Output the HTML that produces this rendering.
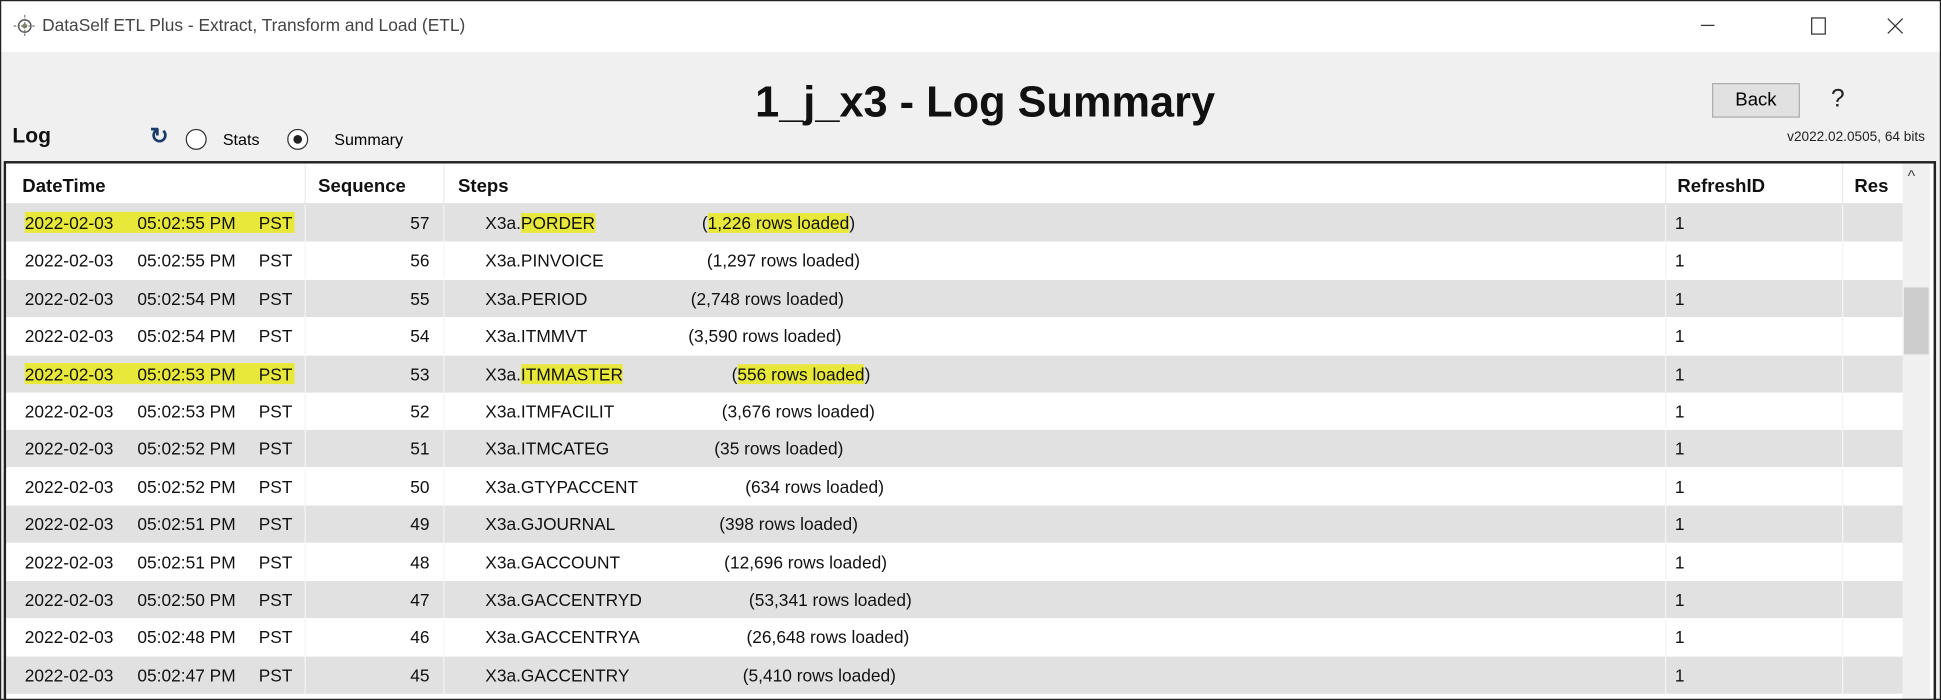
<!DOCTYPE html>
<html><head><meta charset="utf-8"><style>
html,body{margin:0;padding:0;width:1941px;height:700px;overflow:hidden;background:#fff}
#s{position:absolute;left:0;top:0;width:1568px;height:565px;transform-origin:0 0;transform:scale(1.2379,1.2389);background:#f0f0f0;font-family:"Liberation Sans",sans-serif;overflow:hidden}
.a{position:absolute;white-space:pre}
#frame{position:absolute;left:0;top:0;width:1566px;height:563px;border:1px solid #222;z-index:10;pointer-events:none}
.row{position:absolute;left:5px;width:1532px;height:30px;font-size:14px;color:#111}
.row span{position:absolute;top:7px;white-space:pre}
.g{background:#e1e1e1}.w{background:#fff}
.hl{background:#e8e83a}
.vl{position:absolute;top:0;width:1px;height:30px;background:#f4f4f4}
</style></head><body><div id="s">
<div id="frame"></div>
<div class="a" style="left:0;top:0;width:1568px;height:42px;background:#fff"></div>
<svg class="a" style="left:10px;top:11px" width="20" height="20"><circle cx="10" cy="10" r="5" fill="none" stroke="#555" stroke-width="1.2"/><circle cx="10" cy="10" r="2" fill="#886"/><line x1="10" y1="1" x2="10" y2="19" stroke="#777" stroke-dasharray="2 1"/><line x1="1" y1="10" x2="19" y2="10" stroke="#777" stroke-dasharray="2 1"/></svg>
<div class="a" style="left:34px;top:12px;font-size:14px;color:#444">DataSelf ETL Plus - Extract, Transform and Load (ETL)</div>
<div class="a" style="left:1374px;top:20px;width:11px;height:1px;background:#333"></div>
<div class="a" style="left:1463px;top:14px;width:10px;height:12px;border:1px solid #333"></div>
<svg class="a" style="left:1524px;top:14px" width="14" height="14"><path d="M1 1L13 13M13 1L1 13" stroke="#333" stroke-width="1"/></svg>
<div class="a" style="left:610px;top:63px;font-size:35px;font-weight:bold;color:#111">1_j_x3 - Log Summary</div>
<div class="a" style="left:1383px;top:67px;width:71px;height:28px;background:#e1e1e1;border:1px solid #adadad;box-sizing:border-box;font-size:15px;text-align:center;line-height:26px">Back</div>
<div class="a" style="left:1479px;top:69px;font-size:20px;color:#222">?</div>
<div class="a" style="left:1420px;top:105px;width:135px;text-align:right;font-size:11px;color:#222">v2022.02.0505, 64 bits</div>
<div class="a" style="left:10px;top:100px;font-size:17px;font-weight:bold;color:#111">Log</div>
<div class="a" style="left:121px;top:100px;font-size:18px;font-weight:bold;color:#1a3c6a">↻</div>
<div class="a" style="left:150px;top:104px;width:15px;height:15px;border:1px solid #333;border-radius:50%;background:#fff"></div>
<div class="a" style="left:180px;top:105px;font-size:13px">Stats</div>
<div class="a" style="left:232px;top:104px;width:15px;height:15px;border:1px solid #333;border-radius:50%;background:#fff"></div>
<div class="a" style="left:237px;top:109px;width:7px;height:7px;border-radius:50%;background:#222"></div>
<div class="a" style="left:270px;top:105px;font-size:13px">Summary</div>
<div class="a" style="left:3px;top:130px;width:1557px;height:440px;border:2px solid #222;background:#fff"></div>
<div class="a" style="left:5px;top:132px;width:1532px;height:32px;background:#fff;border-bottom:1px solid #ddd;font-size:15px;font-weight:bold;color:#111">
<span class="a" style="left:13px;top:10px">DateTime</span>
<span class="a" style="left:252px;top:10px">Sequence</span>
<span class="a" style="left:365px;top:10px">Steps</span>
<span class="a" style="left:1350px;top:10px">RefreshID</span>
<span class="a" style="left:1493px;top:10px">Res</span>
<span class="a" style="left:241px;top:0;width:1px;height:32px;background:#ececec"></span>
<span class="a" style="left:353px;top:0;width:1px;height:32px;background:#ececec"></span>
<span class="a" style="left:1340px;top:0;width:1px;height:32px;background:#ececec"></span>
<span class="a" style="left:1483px;top:0;width:1px;height:32px;background:#ececec"></span>
</div>
<div class="a" style="left:1537px;top:132px;width:22px;height:436px;background:#f0f0f0"></div>
<div class="a" style="left:1541px;top:134px;font-size:13px;color:#444">^</div>
<div class="a" style="left:1538px;top:232px;width:20px;height:54px;background:#cdcdcd"></div>
<div id="rows"></div>
</div>
<script>
const d=[[57,'55','PORDER','1,226',567,1],[56,'55','PINVOICE','1,297',571],[55,'54','PERIOD','2,748',558],[54,'54','ITMMVT','3,590',556],[53,'53','ITMMASTER','556',591,1],[52,'53','ITMFACILIT','3,676',583],[51,'52','ITMCATEG','35',577],[50,'52','GTYPACCENT','634',602],[49,'51','GJOURNAL','398',581],[48,'51','GACCOUNT','12,696',585],[47,'50','GACCENTRYD','53,341',605],[46,'48','GACCENTRYA','26,648',603],[45,'47','GACCENTRY','5,410',600]];
let h='';d.forEach((r,i)=>{const t=165+i*30.4;
const bg=r[5]?'<div class="hl" style="position:absolute;left:15px;top:6px;width:218px;height:17px"></div>':'';
const hl=r[5]?' class="hl"':'';
h+=`<div class="row ${i%2?'w':'g'}" style="top:${t}px">${bg}<span style="left:15px">2022-02-03</span><span style="left:106px">05:02:${r[1]} PM</span><span style="left:204px">PST</span><span style="left:290px;width:52px;text-align:right">${r[0]}</span><span style="left:387px">X3a.<b${hl} style="font-weight:normal">${r[2]}</b></span><span style="left:${r[4]-5}px">(<i${hl} style="font-style:normal">${r[3]} rows loaded</i>)</span><span style="left:1348px">1</span><div class="vl" style="left:241px"></div><div class="vl" style="left:353px"></div><div class="vl" style="left:1340px"></div><div class="vl" style="left:1483px"></div></div>`;});
document.getElementById('rows').innerHTML=h;
</script>
</body></html>
